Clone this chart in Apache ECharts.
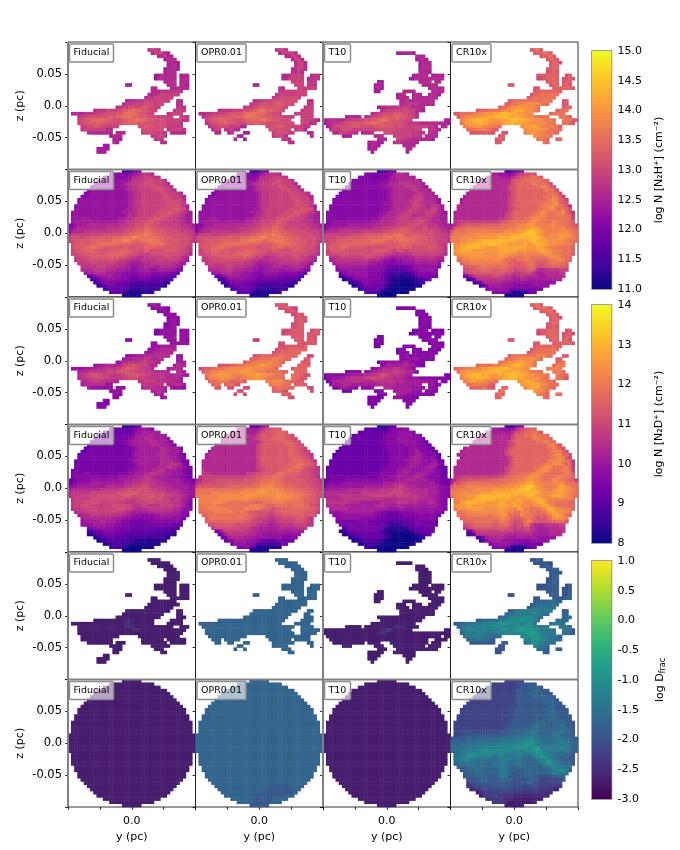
<!DOCTYPE html>
<html>
<head>
<meta charset="utf-8">
<style>html,body{margin:0;padding:0;background:#fff}#main{width:680px;height:850px}</style>
<script src="https://cdn.jsdelivr.net/npm/echarts@6/dist/echarts.min.js"></script>
</head>
<body>
<div id="main"></div>
<script>
// Each map is read off the picture, one string per row of 40 cells, one letter per cell:
// a = bottom of the colour bar, z = top of it, '.' = no data.
// Sphere rows are centred on the panel, filament rows start at the left edge.

const fidN2hSphere = ['cccfgh','iihhhghijklllk','iiiihhhhikkllmmmll','iiiiiiiiiijlllmmnnmmml','iiiiiiiiijkllmmmnnnmmmlk','hiiiiiiiiiijkllmmmmnnnmmlk','hiiiiiiiiiiijkllmmmmmnnnmmlk','hhiiiiiiiiiiiijkllmmmmmmnnmmmlk','hhiiiiiiiiiiiiijkllmmmmmmmnnmmmlk','hiiiiiiiiiiiiiiijkllmmmmmmmnnnmmmk','hiiiiiiiiiiiiiiijkllmmmmmmmmnnnmml','hiiiiiiiiiiiiiiiijkllmmmmmmmmnnnnmlj','iiiiiiiiiiiiiiiijjklmmmmmmmnnnnoonnk','iiiiiiiiiiiiiiiijjkklmmmmmmnnnoonnmlkj','iiiiiiiiiiiiiiiiijkklmmmmmnnoonnmmlkjj','iiijjjiiiiiiiiijjkklmmmmnnoonnmmmlkkjj','ijjjjjjjjjjjjjjkkllmmmnnoonnmmmmlllkjj','hhijjjkkkkkkkkkklllmmnnnooonnmmmmmmllkkj','hijkkkkkkkkklllllmmnnoooppoonnnnmmmmllkk','hjkkklllllllllmmmmnnooppqqpoooonnnnmmmml','kmmmmmmmmmnnnnnnnooppqqqrqqppoonnnnnnmml','mnnnnnnooooooopppqqqrrqqqqqqppooonnnnnml','mnnoooooppppppqqqrrqqppqqrqqqppoooonnnml','noooooppqqqqqqqppppooooppqqqqppooonnnm','noooppqqppoooooooonnoooppppoooooonnnml','mnoopppooonoooppppoonnnoonnnnoooonnmml','mmnnoooooooopppppoonnmmmmnnnnnnnnnmmlk','mmnnnoooooooopoonmmlkllmmmmmnnnmmlkk','lmmmnnnnnnnnnnmmllkkklllllmmmmmmllkj','lmmmmmmmmmmmlllkjjjjkkklllllllkkjj','lllllmmmllllkkjjiijjkkkjjkkkkkji','kkkkllllkkkjjjiihiijjjiijjjjjihh','ijjkkkkjjjiiihhhhiiiihhhhhhggf','ffhijjjjiiihhhgghhhhggggggfe','ddfhiiiiihhhgggggggfffffed','ddfhhhhgggffeeeeeeeeedcc','cdeggggfffddcdddddddcc','deefffeedcccccccdd','efffecbbbbbccc','bbbbbb'];
const t10N2hSphere = ['bbcefg','hhgggghhijkkkj','hhhhggggghjjkkkkkj','hhhhhhhhhhhijjkkkkkkkj','hhhhhhhhhhiijkkkllllkkkj','hhhhhhhhhhhhijjkkkklllkkji','ghhhhhhhhhhhhhijkkkkkkllkkkj','ghhhhhhhhhhhhhhijkkkkkkkllkkkj','gghhhhhhhhhhhhhhijkkkkkkllmlkkkj','ghhhhhhhhhhhhhhhhijkkkkkllmmlkkkji','ghhhhhhhhhhhhhhhiijkkkkklmmllkkkji','hhhhhhhhhhhhhhhhhiijkkkkllmmmlkkllkj','hhhhhhhhhhhhhhhhhiijkkkklmmmllllmmkj','hhhhhhhhhhhhhhhhhiijkkkllmmmlllmmmlkji','hhhhhhhhhhhhhhhhiijkkkllmmmkkllmmlkkjj','hhhhhhhhhhhhhhiiijkkkklmmmllmmmmlkkkjj','hhiiiiiiiiiiiijjjkkkkllmmmmmmnnmlkkkjj','ghhiiiiijjjjjjjkkkkllllmmmnnnnmmmlllkkjj','gijjjkkkkkkkkkkklllmmmnnooonnmmnnmmmlkkj','jkkkklllllllmmmmmmmnnoooppoonnnnnnnmmllk','lmmmmmmmmnnnnoooooopppqqqpoooooonnnmmmml','mmmmnnnooooooopppppqqqpqqqppppooonnmmmll','mmnnoooooppppppqqqqppoppqqqppoooonnnmmml','nnooppppppppppppoooooooppppoooooonnmml','nooopppooooonnnnnnnooooopoonnnnnoonnml','mnoooonnnnnnnnnoooonnmnnmmnnnnnnnnnmml','mmnnnnnnnnnnnnnnnnmmllkllllmmmmmmmmmlk','kllmmmmmmmmnnnmmlkkjjjjjjkkllllllkkk','jklllllllllllkkkjiihhiijjjjkkkkkkkjj','jkkkkkkkkkkjjjiihhhhhhiiiijjjjjjji','ijjjjjjjjjiiihhhggffffgghiiiiiiih','hiiiiiiiiihhhhggfeeeeefghhiiiiih','ghhiiiiiihhhggfedddccddfghhhhhh','ddghhiiiihhhhgfdcccbbccdfgggggg','bcdghhhhhhhhgfdcbbbbbbbcdefg','bcdfhhhhgggfdcbbaaaabbcd','bcefggggffecbaaaaaaabb','cdeffffecbaaaaaaab','deeedbaaaaaaab','aaaaaa'];
const crN2hSphere = ['ccdfgh','jjiiihijlmnnon','kkkkjjjjkmnoppqqpo','kkkkkkkkkknoopqqqqqqpp','kkkkkkkkkklnopqppqrqqqpn','kkkkkkkkkkkmnoppppppqrrqon','kkkkkkkkkkkkmnoppppppppqrqpn','jkkkkkkkkkkkklnopppppppppqqqpn','jkkkkkkkkkkkkkmnoppppppppqqqrrom','jkkkkkkkkkkkkkkmnopppppppppqrsrpom','jkkkkkkkkkkkkkkmnooppppppqqrrsspon','kkkkkkkkkkkkkkkkmnopppppppqrrssrqpol','kkkkkkkkkkkkkkkkmnoopppppqqrrssqqrpn','kkkkkkkkkkkkkkkklnoppppppqqssrqqrrspnl','kkkkkkkkkkkkkkkkmnopppppqrrssqqqrrrqpm','kkkkkkkkkkkkkkllmnopppqqrssrrqqqqqqqpn','klmmmmmmmmmmmmnoopqqqqqrssrrqqqrrqqqpo','jkmnooooooooppppqqqqrrssttsrrrrssrrqqpon','koppqqqqqqqqqqqqqqrrrssttuutsrrrrrrsqqqp','oqqqqrrrrrrrrrrrrssssttuvwvutsrrrrsssrqq','qqrrrrrssssssstttttuuuvwwwvutsrssstttsrq','rrrrsssssttttttuuuuvvvvuvvvvutssssttsrrq','rrrsstttuuvvvvvvvvvvuttuuvvuuutsttssrqqq','ssttuuvvvvvwwvvuutttttuttuvuutssssrrrq','stuvvvvvuuttttuuuuuuuuutttuutsrrrqqqqp','ttuuuuttttttttuuuuuutttssstuutsrrrqqqp','sttttttttsssstttttssrrsrrrrsttsrrqqqpo','rrsstttttssssttsrrqqqrrqqqqqrsssrqqp','qqrrssssssrsssrqqppqqrqqpppppqrrsrqp','pqqrrrrrrrrrrqqppooppqqpooopqqqqqp','oopppqqqqqqpqqpooooppqpnnoopppppo','nnoopppppoopppoomnnoppokkkllllmmm','lnnoooooooooonnmllmmnmkjjkkkkkll','ggjlmmmmmnnmmllkkkllkkkjjjkkkkkl','ddglllllllllkkkjjkkjjjjjjjjjkk','ddgjkkkkkjjjiiiiiiiiiiiiii','cfhjjjjiiiihhhhhhiiiii','giiiiiihhggggggggg','hhhhhgbbbbbfgg','bbbbbb'];

const fidN2dSphere = ['bbcdef','ggfffefghiiiih','ggggfffffgiijjjjjj','ggggggggggghjjjjkkjjjj','ggggggggggghijjjkkkjjjji','fgggggggggghijjjjjkkkjjjih','fggggggggggggijjjjjjkkkjjjih','ffggggggggggggghijjjjjjjkkjjjih','ffgggggggggggggghijjjjjjjkkkjjji','fggggggggggggggggijjjjjjjkkkjjjihg','fgggggggggggggggghijjjjjjjkkkjjihg','fgggggggggggggggggijjjjjjjjkkkkjihgg','gggggggggggggggggghijjjjjjjkkkllkjhg','gggggggggggggggggghiijjjjjkkkllkjjihg','gggggggggggggggggghiijjjjkkllkjjjiihgg','gggghhggggggggghhhiijjjkkllkkjjjiiihgg','ghhhhhhhhhhhhhhiiijjjkkllkkjjjjiiihhgg','ffghhhhiiiiiiiiijjjjkkkllllkkjjjjjjiihhg','fghiiiijjjjjjjjjjjkklllmmmllkkkjjjjjiihh','hiijjjjjjjjjkkkkkkllmmmnnmlllkkkkjjjjjii','jkkkkkkkkkllllllmmmnnnonnnmmlllkkkkjjjii','kllllllmmmmmmmmnnnnooonnnnnmmmmlllkkjjii','kllmmmmmmnnnnnnnnooonnnnnoonnnmmmlllkjii','lmmmmmnnnnnnnnnnnmmmmmnnnnnnnmmlllkjji','lmmmnnnnnmmmmmmmmlllmmmmnnmmmmmlllkjih','lmmnnnmmmlmmmnnnnmmlllmmllllmmmmllkjih','kllmmmmmmmmmmmnnnmmlkkkkllllllllkkjihh','kllmmmmmmmmmmmmlkkjjjjjkkkkkkkkjjihh','jkkklllllllllkkjjiiihhiiiijjjjjiihg','jkkkkkkkkkjjjiiihhhhhhhiiiiiiiihg','ijjjjjkkjjjiihhgggggghhhhhhhhhhg','iiiijjjjiiihhggggfffgggggggggfff','ghhiiiihhhggggffffffffffffeed','ddfgghhhhgggfffffffffeeeeedd','bbdffggggfffeeeeeeeeeedddddc','bbdfffffeeedddddddddddcb','bccdeeeeddddbbbbbbbbbb','bccdddcccbbbbbbbbb','cddddcaaaaaabb','aaaaaa'];
const oprN2dSphere = ['dddhij','kkjjjjjkmnnooo','kkkkkjjjkmnnoopppo','kkkkkkkkkkmnoooopppoon','kkkkkkkkkklmnoooppppoonn','kkkkkkkkkkkkmnoooooppponn','kkkkkkkkkkkkkmnoooooooppponn','jkkkkkkkkkkkkkmnooooooooppoonm','jkkkkkkkkkkkkkkmnooooooooppoonmm','jkkkkkkkkkkkkkkkmnooooooooppponnml','jkkkkkkkkkkkkkkkmnoooooooooppponnl','kkkkkkkkkkkkkkkkkmnoooooooooppppoonl','kkkkkkkkkkkkkkkkkmnnooooooopppqqppon','kkkkkkkkkkkkkkkkkmnnoooooopppqqponnml','lkkkkkkkkkkkkkkkklmnnooooppqqpponnmll','lllkkkkkkkkkkkmmmnnoooopqqppooonnnmll','lmmmmmmmmmmmmmmmnnoooppqqppoooonnnnmmk','kkmmmmnnnnnnnnnoooopppqqqqppooooooonnmml','kmnnnnnoooooooooooppqqqrrqqpppooooonnmml','noooooooooopppppppqqrrssrqqqppppoooonnmm','pqqqqqqqqqqqqqqrrrrsstssssrrqqqppppoonnm','qqqqqrrrrrrrrrssssstttsssssrrrrqqqppoonn','qrrrrrrsssssssssttsssrsssttsssrrrqqpoonn','rrrrrrssssssssssrrrrrrrrssssrrqqqpponn','rrrrsssrrqqqqqqqqqppqqqrrrrqqqqqqppoon','qrrrrrqqqqqqqqqqrrrqqpppqqqqpqqqqppnnm','qqqrrrrrrqqqqqrrrrrqpponoooppppppppoon','qqqqqrrrrrrqqrqpoonnnnnnoopppppppooonm','ppqqqqqqqqqqqqppoonnnmmnnoooooopooon','pqqqqqqqqqqqpponnmmmllmmnnnnnoonml','ppppppppppppoonnmmllkklmmmmmnnnnml','nnoooooonnnnnmmlkkkjjkkllllmmmmll','lnnnnnnnnmmmlkkjjjjjjkkkkkklll','ghkmmmmmmlllkkjjjjjjjjjjjjjj','fhjllllllkkkjjiiiiiiiiiiii','ggjkkkkjjjjiiiiiiiihhhhh','gghjjjjiiihhffffggfgfg','giiiihhhfdddddddgg','hhhhgfbbbbbbcc','bbbbbb'];
const t10N2dSphere = ['bbbdef','ffeeeeefghhhii','fffffeeeeghhhiiiih','ffffffffffghhhhiiiihhh','fffffffffffghhhiiiiihhhg','ffffffffffffghhhhiiiiihhgf','fffffffffffffghhhhhhiiihhhgf','ffffffffffffffghhhhhhhiiihhhgf','efffffffffffffffghhhhhhiijihhhgf','effffffffffffffffghhhhhhiijjihhhgf','effffffffffffffffghhhhhhijjjihhhgf','ffffffffffffffffffghhhhiijjjjiihiigf','fffffffffffffffffgghhhhhijjjiiiijjhg','fffffffffffffffffgghhhhiijjjiiijjjigff','fffffffffffffffffghhhhiijjjiiijjjihhgf','ffffffffffffffggghhhhhijjjiijjjjihhhgf','fggggggggggggggghhhhiijjjjjjkkjihhhhgf','efggggghhhhhhhhhhhhiiiijjjkkkjjjjiihhggf','fghhhhiiiiiiiiiiiiijjjkkkkkjjjjjjjjihggf','hiiiiiiiiiiiijjjjjjkkkllmlkkkjjjjjjjiihh','jjjjjjjjkkkkkkkkkkllllmmmllkkkkkkjjjihhg','kkkkkkkkkkkkllllllllmmmmmlllkkkkkjjjihhg','jkkkkllllllllllmmmmmmmlmmmmlllkkkjjiihhg','kkkkkllllllllllllkkkkkkllllllkkkkjjiig','lllllllkkkkjjjjjjkkkkkllllkkkjjjkkjihh','kkkkkkjjjjjjjjjkkkkjjjkkjjjjjjjjjjjihh','jkkkkkjjjjjjjjjjjjjiiijjiiiiiiiiiiihg','iiiijjjjjjjjjjiihggggghhhhhiiiiiihhg','hhiiiiiiiiiiihhggffffghhhhhhhhhhgf','hiiiiiiihhhhhgggfffffggggghhhhhg','ggggggghhhgggfffeeeddfffgggggggf','ggggggggggggfffecccdeeffgggggff','eeggggggggggfecbbbbcdefffffff','ccegggggggggfdcbbbbbbbcdffffff','bcdeffffffffedcbaaaaaabcdeef','bbddffffffedcbaaaaaaaabc','bccdeeeedcbaaaaaaaaabb','bbcdddcbaaaaaaaaab','cccbaaaaaaaaab','aaaaaa'];
const crN2dSphere = ['cccfgh','jjiiihijlnoppp','kkjjjjjjknnoppqqpo','kkkkkkkkkkmoopqqqrqqqp','kkkkkkkkkkknoppppqrrqqqp','kkkkkkkkkkkmnpppppppqqrrpp','kkkkkkkkkkkkmnopppppppppqsrpo','jkkkkkkkkkkkklnoppppppppppqqrqpn','jkkkkkkkkkkkkkmoppppppppppppqrrrpn','jkkkkkkkkkkkkkkmnppppppppppppqrssppn','jkkkkkkkkkkkkkkmnpppppppppppqqrsrom','kkkkkkkkkkkkkkkkmoppppppppppqrrssrqpl','kkkkkkkkkkkkkkkkmoppppppppqqrrsssqpql','kkkkkkkkkkkkkkkkmnoppppppqqrsssqqqrrpm','kkkkkkkkkkkkkkkkmnpppppppqrsssqqqqrrqm','kkkkkkkkkkkkkkllmopppqqqrsssrqqpqqqrqo','llmmmmmmmmmmmmnnppqqqqrstssrqqqqrrrqqp','jkmnnnooooooopppqqqqqrrsttssrqqqssrqqpom','konppqqqqqqqqqqqqqrrrsstuutssrrrssssqqqp','oqqqqrrrrrrrrrrrssssttuvwwutsrrrrsutsrqq','qqrrrrrssssssttttttuuvvwwvutssrrstuutsrq','rrrrsssssttttuuuuuuuvvvuvvvutsssstutsrrq','qrssstttuuvvvvvvvvvuuttuvvutssstuuutsrqq','rrssttuvvvvvvuuuuuttuttttuvutsrrrsrrrq','rrtuvvvuuuttttuuttuuttssstuvusrrqqqqpp','stttuuttttttttuuuttutsssrsstuusrqqqqpp','rssstttttssssttttssrutrrqqqrsuvtssrrqp','qqrrsssssssrsttsrrqqsrrqqpqqstutssrr','qqqrrrrrrrqrsstsqqppsrqqppppqrtutrqp','ppqqqqqqqqqqrsrqpoopqrqpnoopqstssr','pppqqqqqqqpqrqponnoqrqoooooppqqqo','nnoppppppooppqpnmnnqpmkkkkllllmm','lmnooooooooooonmlmmnnlkjjkkkkkll','ggkmmmmmmmmnmmmlllmmlkjjjjkkkkl','ddglllllllllkkkjkkkkkjjjjjkkkk','ddgjkkkkkjjjjjjjjjjiiiiii','cfhjjjjiiiihhhhhiiiiii','giiiiiihhgggggggg','hhhhhgbbbbbfgg','bbbbbb'];

const fidDfracSphere = ['cccccc','cccccccccccccc','cccccccccccccccccc','cccccccccccccccccccccc','cccccccccccccccccccccccc','cccccccccccccccccccccccccc','cccccccccccccccccccccccccccc','cccccccccccccccccccccccccccccc','cccccccccccccccccccccccccccccccc','cccccccccccccccccccccccccccccccccc','cccccccccccccccccccccccccccccccccc','cccccccccccccccccccccccccccccccccccc','cccccccccccccccccccccccccccccccccccc','cccccccccccccccccccccccccccccccccccccc','cccccccccccccccccccccccccccccccccccccc','cccccccccccccccccccccccccccccccccccccc','cccccccccccccccccccccccccccccccccccccc','cccccccccccccccccccccccccccccccccccccccc','cccccccccccccccccccccccccccccccccccccccc','cccccccccccccccccccccccccccccccccccccccc','cccccccccccccccccccccccccccccccccccccccc','cccccccccccccccccccccccccccccccccccccccc','cccccccccccccccccccccccccccccccccccccccc','cccccccccccccccccccccccccccccccccccccc','cccccccccccccccccccccccccccccccccccccc','cccccccccccccccccccccccccccccccccccccc','cccccccccccccccccccccccccccccccccccccc','cccccccccccccccccccccccccccccccccccc','cccccccccccccccccccccccccccccccccccc','cccccccccccccccccccccccccccccccccc','cccccccccccccccccccccccccccccccccc','cccccccccccccccccccccccccccccccc','cccccccccccccccccccccccccccccc','cccccccccccccccccccccccccccc','cccccccccccccccccccccccccc','cccccccccccccccccccccccc','cccccccccccccccccccccc','cccccccccccccccccc','cccccccccccccc','cccccc'];
const oprDfracSphere = ['iiiiii','iiiiiiiiiiiiii','iiiiiiiiiiiiiiiiii','iiiiiiiiiiiiiiiiiiiiii','iiiiiiiiiiiiiiiiiiiiiiii','iiiiiiiiiiiiiiiiiiiiiiiiii','iiiiiiiiiiiiiiiiiiiiiiiiiiii','iiiiiiiiiiiiiiiiiiiiiiiiiiiiii','iiiiiiiiiiiiiiiiiiiiiiiiiiiiiiii','iiiiiiiiiiiiiiiiiiiiiiiiiiiiiiiiii','iiiiiiiiiiiiiiiiiiiiiiiiiiiiiiiiii','iiiiiiiiiiiiiiiiiiiiiiiiiiiiiiiiiiii','iiiiiiiiiiiiiiiiiiiiiiiiiiiiiiiiiiii','iiiiiiiiiiiiiiiiiiiiiiiiiiiiiiiiiiiiii','iiiiiiiiiiiiiiiiiiiiiiiiiiiiiiiiiiiiii','iiiiiiiiiiiiiiiiiiiiiiiiiiiiiiiiiiiiii','iiiiiiiiiiiiiiiiiiiiiiiiiiiiiiiiiiiiii','iiiiiiiiiiiiiiiiiiiiiiiiiiiiiiiiiiiiiiii','iiiiiiiiiiiiiiiiiiiiiiiiiiiiiiiiiiiiiiii','iiiiiiiiiiiiiiiiiiiiiiiiiiiiiiiiiiiiiiii','iiiiiiiiiiiiiiiiiiiiiiiiiiiiiiiiiiiiiiii','iiiiiiiiiiiiiiiiiiiiiiiiiiiiiiiiiiiiiiii','iiiiiiiiiiiiiiiiiiiiiiiiiiiiiiiiiiiiiiii','iiiiiiiiiiiiiiiiiiiiiiiiiiiiiiiiiiiiii','iiiiiiiiiiiiiiiiiiiiiiiiiiiiiiiiiiiiii','iiiiiiiiiiiiiiiiiiiiiiiiiiiiiiiiiiiiii','iiiiiiiiiiiiiiiiiiiiiiiiiiiiiiiiiiiiii','iiiiiiiiiiiiiiiiiiiiiiiiiiiiiiiiiiii','iiiiiiiiiiiiiiiiiiiiiiiiiiiiiiiiiiii','iiiiiiiiiiiiiiiiiiiiiiiiiiiiiiiiii','iiiiiiiiiiiiiiiiiiiiiiiiiiiiiiiiii','iiiiiiiiiiiiiiiiiiiiiiiiiiiiiiii','iiiiiiiiiiiiiiiiiiiiiiiiiiiiii','iiiiiiiiiiiiiiiiihhhhhhiiiii','iiiiiiiiiiiiiiiihhhhhhhhii','iiiiiiiiiiiiihhhhhhhhhii','iiiiiiiiihhhhhhhhhhiii','iiiiiiihhhhhhiiiii','iiiiihhhhhhiii','hhhhhh'];
const t10DfracSphere = fidDfracSphere;
const crDfracSphere = ['ffffff','ffffffffghhhhh','ffffffffffghhhiiih','fffffffffffghhhhiiihhh','ffffffffffffghhhiiiiihhh','fffffffffffffghhhhhiiiiihh','ffffffffffffffghhhhhhhiiiihh','fffffffffffffffghhhhhhhhiiiihh','fffffffffffffffgghhhhhhhhhiiihhh','fffffffffffffffgghhhhhhhhhiiiihhhh','fffffffffffffffgghhhhhhhhhhiiiihhh','fffffffffffffffggghhhhhhhhhiiiiihhhh','ffffffffffffffffgghhhhhhhhhiijjiihhh','ffffffffffffffffgghhhhhhhiijjiihiijhhh','ffffffffffffffffgghhhhhhijjjiihiijjhhh','ffffffffffffffffghhhhiiijjjiiihhiijjhh','ggggggggggggggghhhiiiijjkkjiiiiijkjiih','ffggghhhhhhhhhhhiiijjjkkkkjjiiikkjiiih','ghhhhiiiiiiiiijjjjjkkkkllmkkjjjjjkkjjiih','hiiiiiiijjjjjjjjkkkkkllmmnlkkjjjjkllkjii','iiijjjjjkkkkkkklllllmmmnnmmkkjjjkllkkjii','ijjjjkkkkkkllllllllmmmnnmmnnlllkkkllkjii','jjjkkklllmmmmmmmmmmmllkmmmnnmllkkkkkkjii','jjkklmmmmmmmllllkkkkllkkkmnnmlkjjjjiih','jkllmmllkkkkjjkkkkkkkkjjjklnnmkjjiiihh','jkkllkkjjjjjjjkkkkjjkjiiiijllnmkjjiihh','iijjjjjjjiiijjjkkjjjkjiiiiiklmmkkjjiih','iiijjjjjjiijjkkjiiiijjiiiiijjklllkjj','hhiijjjiiiiijkkjihhhjjiiiiiijklmmlh','hhiiiiiiiiijkkjhhhhijiiiiiijkkkkk','hhhiiiiihhijkkhhhghjiihggggghhii','gghhiiihhhhiijhgggghiihfffffggh','fgghhhhhhhhhhhggghhiigfffffffg','eefggggghhhhhhggggfgggffffeeee','deefggggggggggffffffffeeeedd','cdefffffffffeeeeeeeeeddd','cdefffeeeeeddddddddddd','deeeeedddccccccccc','eeeedccccccccd','cccccc'];

const fidN2hFil = ['','','.........................lmml','..........................kmmmkj','............................kkmkk','..............................jkkk','...............................kkkj','...............................jkkj','..............................jkkkj','..............................jkkk','...........................jjkkkkk.jkk','...........................ikkkkkk.kkk','..............................kkkl.kkk','..................jj...........kkk.kkj','..........................kk....kkkkkk','..........................kkklllllll','.........................kkllmmmmmm','........................kllmmmmmm','..................jkklllmmmmmmmm..kk','.................kllmmmmnnnmmm....kl','...............klmmnnnnoonnmm.....lll','........klllmmmmnoopqppoonmm.....lmmm','.kkkkllllmmnnnnoopqqqpoonnm....lmmmm','...lmmnnnnnnoooppqqqppooonnnmmmmm..mml','...mnoopppppoonnnooppqqppoonnnnmmmmmll','...mnnoooppoonnnnoopppoonnnnnnnmmmml','....mmnnoonnmmmm......nnooonnnnmmmll','....lmmmmmmmkk.........nnnnnnn.lmmmml','......lkkkkkkk.kkk.....mmnnmmml.lkkkk','.............jkkk.........lmmml','..............jkj..........lml','..............kj.............kl','...........jj','.........jjjj','.........jjj'];
const oprN2hFil = ['','','.........................lmml','..........................kmmmmk','............................kkmmk','..............................kmmk','...............................kmmk','...............................kmmk','..............................kkmmk','..............................kkmk','...........................kkkmmmm..kll','...........................kkmmmmm.klll','..............................mmmm.lll','..................kk...........mmm.llk','..........................lk....mmmmmm','..........................llmmmmmmm','.........................lmmmmmmmmm','........................lmmnnnnnm','..................kllmmmnnnnnnnn...lk','.................lmmnnnnnooonnn....ll','...............lmmnnooooooonn.....lmm','.......kllllmmmnnoopqqppoonn.....lmmm','.kklllmmmnnoooopqqqqppoonnm....lmmmmm','..lmmnnooooopppqqqqppooonnnmmmm..mmmm','...mnoopppoonnnoopppqqppoonnnn...nmmmkk','...lmnnoopoonnnnooppoonnnnnnnnn..nmmkl','....lmmnnnmlmmkk......nnnooonnmmmmll','.....kmm.llmkk.........nnnnnnn.lmmk','......kk..kl...jj.......mnnnnmm....kk','.............kj.........lmmmk.......k','............k..j...........lmk','.............................lk'];
const t10N2hFil = ['','','','.......................jjkkkj','.............................kkk','.............................jkkj','..............................jkkk','..............................jkkk','..............................jkkk','..............................kkkj','............................jjkkk.jjkj','...........................jjkkkkkkkkk','.................jj...........kkkk.kk','................jkj............kkkkk','................jkj..............kkkkk','................jj.......kkkk.....kkkk','.......................jkk..kkk..kkkj','.......................jkkk.kkkkkkkk','........................kklkkkkkkkk','........................kkllllkkkkk','.................jkklllllmmlkkkk','..................klmmmmmnnmmkkj','...............klmmnnnooonnmmk','.......jkkkk.klmmnnoooppoonnmk..........jk','jkkkkkkllmmmmnnoopqqpooonnmm..........kjj','jkkllmmnnooooppqqppooonnnmmlllkkkkkkkkkj','.jkmnnnnnooonnnnoooooonnnnmmmmmmmllk.kk','..kmmmnnnmmmmmmmmnnnnnnmmmmmmmm..llkk','...kkmmmllk.kkkl...nnnmmmmmmllll.lkk','......jjj.......kkk...mmmmmmlll.kkkk','.................kkk...mmmllkkkkkkj','..............jkkjj...lllkkkkj','..............jkkj.......kkkk','..............jkj.........kk','...............j..........j'];
const crN2hFil = ['','','.........................opqo','..........................oppqpo','............................oppqo','..............................oppo','...............................oppn','...............................opp','..............................oopp','..............................nopo','...........................noopppp..no','...........................mnopppp.oopn','..............................oppp.opo','..................oo...........opp.opn','..........................oo....opppppo','..........................opppppppp','.........................oppqqqqqq','........................opqqqqqqq','..................opqqqqqqqqqrqq...oo','.................opqqrrsstssrqq....oo','...............pqqrsstttssrq.......opp','........opppqqqqrsstuuvttsrq.....oqqq','.opqqqqrrsstttuuvvvuuttsss.....pqqqq','..oqrrssttttuuvvvvuuuuttssrqqqq...qqqo','...rstuvvvuuttttuuvvwvvuutsssrrrq..rqqoo','...qsttuuvuutssstuuvuuuttsssssrrq..qqpo','....rsstttssrrrq......sttuutsrrrrqo','.....pqqrrrqqpo........stttttssqqqq','......ooooopoo..oo.....rsttssrqqqp','...............op.........ssrrrq','..............opo..........qrqp..pq','..............oo.............qp'];

const fidN2dFil = ['','','.........................ijji','..........................hiiihh','............................hhih','..............................hiii','...............................hiih','...............................hiih','..............................hhiih','..............................hhii','...........................hhiiiii.hii','...........................ghiiiii.iii','..............................iiij.iii','..................hh...........iii.iih','..........................ii....iiiiii','..........................iiijjjjj','.........................iijjkkkkk','........................ijjkkkkkk','..................hiijjjkkkkkkkk..ii','.................ijjkkkkllkkkk....ij','...............ijkkllllmmllkk.....jjj','........ijjjkkkkkmmnonnmmlkk.....jkkk','.iiiijjjjkkllllmmnooonmmllk....jkkkk','...jkkllllllmmmnooonnmmmlllkkkkk..kkj','...klmmnnnnmmlllmmnnoonnmmllllkkkkkkjj','...kllmmmnnmmllllmmnnnmmlllllllkkkkj','....kkllmmllkkkk......llmmmllllkkkjj','....jkkkkkkkii.........lllllll.jkkkkj','......jiiiiiii.iii.....kkllkkkj.jiiii','.............hiii.........jkkkj','..............hih..........jkj','..............ih.............ij','...........hh','.........hhhh','.........hhh'];
const oprN2dFil = ['','','.........................nooo','..........................nooonm','............................nnon','..............................nnoo','...............................nooo','...............................noon','..............................nnoo','..............................nnoo','...........................nnnoooo..noo','...........................mnooooo.oooo','..............................oooo.oon','..................mm...........ooo.oon','..........................nn....oooooo','..........................nnoooooop','.........................nooopppppp','........................noopppppp','..................noopppppqqpppp...nn','.................oppqqqqrrqqpp....oo','...............opqqrrrrsrrqp.....ooo','.......noooppqqqrrssttssrrq.....oppp','.nopppqqqrrsssssttsssrrrqp....opppp','..oqqrrssssssstttssrrrqqqqqpp..pppp','...qrsstttssrrrssttuttssrqqq..qpppnn','...prrsstssrrqrrssttssrqqqqq..qppno','....pqqrrrqopqqo......rrsssrqqppoo','.....oqq.ppqon.........rrrrqqq.oppo','......oo..on...nn.......pqqqqpp....nn','.............on.........oppon.......n','............n..n...........opo','.............................on'];
const t10N2dFil = ['','','','.......................ggghhg','.............................hhh','.............................ghhg','..............................ghhh','..............................ghhh','..............................ghhh','..............................hhhg','............................gghhh.gghg','...........................gghhhhhhhhh','.................gg...........hhhh.hh','................ghg............hhhhh','................ghg..............hhhhh','................gg.......hhhh.....hhhh','.......................ghh..hhh..hhhg','.......................ghhh.hhhhhhhh','........................hhihhhhhhhh','........................hhiiiihhhhh','.................ghhiiiiijjihhhh','..................hijjjjjkkjjhhg','...............hijjkkkllkkjjh','.......ghhhh.hijjkklllmmllkkjh..........gh','ghhhhhhiijjjjkkllmnnmlllkkjj..........hgg','ghhiijjkkllllmmnnmmlllkkkjjiiihhhhhhhhhg','.ghjkkkkklllkkkklllllllkkkjjjjjjjiih.hh','..hjjjkkkjjjjjjjjkkkkkkjjjjjjjj..iihh','...hhjjjiih.hhhi...kkkjjjjjjiiii.ihh','......ggg.......hhh...jjjjjjiii.hhhh','.................hhh...jjjiihhhhhhg','..............ghhgg...iiihhhhg','..............ghhg.......hhhh','..............ghg.........hh','...............g..........g'];
const crN2dFil = ['','','.........................opqo','..........................oppqpo','............................oppqo','..............................oppo','...............................oppn','...............................opp','..............................oopp','..............................nopo','...........................noopppp..no','...........................mnopppp.oopn','..............................oppp.opo','..................oo...........opp.opn','..........................oo....opppppo','..........................opppppppp','.........................oppqqqqqq','........................opqqqqqqq','..................oqqqqqqqqrrsqq...oo','.................pqqrsssstsrq....oo','...............qqrssttutssq......pqq','........pqqqqrrrsttuvvuttsq.....prrr','.pqqrrrsssttuuvvvvvuuttst.....qrrrr','..qsstttttuuvvvvuuuuuuttsrqqq...rrrp','...stuvvvvuutttuuvvwvvuuttsrrrq..rqqp','...rttuuvvuutsstuuvvvuuttsssrqq..qqpo','....rstuttsrrrq......ttuuutsrrqqp','.....qqrrrqqpo........tuuuuutsrqqq','......ppppqpoo..pp.....rtuuusrqqp','...............pq.........tssrq','..............pqp..........rrqp..qq','..............pp.............qp'];

const fidDfracFil = ['','','.........................cccc','..........................cccccc','............................ccccc','..............................cccc','...............................cccc','...............................cccc','..............................ccccc','..............................cccc','...........................ccccccc.ccc','...........................ccccccc.ccc','..............................cccc.ccc','..................cc...........ccc.ccc','..........................cc....cccccc','..........................cccccccc','.........................cccccccccc','........................ccccccccc','..................cccccccccccccc..cc','.................ccccccccccccc....cc','...............cccccccccccccc.....ccc','........ccccccccccdddcccccc.....cccc','.ccccccccccccccccdddccccccc....ccccc','...cccccccccccccccdddcccccccccccc..ccc','...cccccccccccccccccdddcccccccccccccc','...ccccccccccccccccccccccccccccccccc','....cccccccccccc......ccccccccccccc','....cccccccccc.........ccccccc.cccccc','......cccccccc.ccc.....cccccccc.ccccc','.............cccc.........cccccc','..............ccc..........ccc','..............cc.............cc','...........cc','.........cccc','.........ccc'];
const oprDfracFil = ['','','.........................iiii','..........................iiiiii','............................iiiii','..............................iiii','...............................iiii','...............................iiii','..............................iiiii','..............................iiii','...........................iiiiiii..iii','...........................iiiiiii.iiii','..............................iiii.iii','..................ii...........iii.iii','..........................ii....iiiiii','..........................iiiiiiiii','.........................iiiiiiiiii','........................iiiiiiiii','..................iiiiiiiiiiiiii...ii','.................iiiiiiiiiiiii....ii','...............iiiiiiiiiiiiii.....iii','.......iiiiiiiiiiiiiiiiiiiii.....iiii','.iiiiiiiiiiiiiiiiiiiiiiiiii....iiiii','..iiiiiiiiiiiiiiiiiiiiiiiiiiiii..iiii','...iiiiiiiiiiiiiiiiiiiiiiiiiii...iiiiii','...iiiiiiiiiiiiiiiiiiiiiiiiiiii..iiiii','....iiiiiiiiiiii......iiiiiiiiiiiiii','.....iii.iiiii.........iiiiiii.iiiii','......ii..ii...ii.......iiiiiii....ii','.............ii.........iiiii.......i','............i..i...........iii','.............................ii'];
const t10DfracFil = ['','','','.......................ccccc','.............................ccc','.............................cccc','..............................cccc','..............................cccc','..............................cccc','..............................cccc','............................ccccc.cccc','...........................ccccccccccc','.................cc...........cccc.cc','................ccc............ccccc','................ccc..............ccccc','................cc.......cccc.....cccc','.......................ccc..ccc..cccc','.......................cccc.cccccccc','........................ccccccccccc','........................ccccccccccc','.................ccccccccccccccc','..................ccccccccccccc','...............ccccccccccdccc','.......ccccc.cccccccccdeddcccc..........cc','cccccccccccccccccccdfdcccccc..........ccc','cccccccccccccccccddecccccccccccccccccccc','.cccccccccccccccccccccccccccccccccccc.cc','..ccccccccccccccccccccccccccccccc..cccc','...cccccccccc.cccc...cccccccccccc.ccc','......ccc.......ccc...cccccccccc.cccc','.................ccc...ccccccccccccc','..............ccccc...ccccccc','..............cccc.......cccc','..............ccc.........cc','...............c..........c'];
const crDfracFil = ['','','.........................ggjh','..........................ghhhhg','............................hhih','..............................hhii','...............................hhhh','...............................ghi','..............................gghi','..............................ghih','...........................ggghhhi..gh','...........................gghhhhi.ggh','..............................hhhi.hhh','..................gg...........hhh.ggh','..........................hh....hhhhii','..........................hhiiijjji','.........................hiijjjjjj','........................hijjkkkjj','..................hijjkkkkkkkkkk...hh','.................ijjkkkkkllkkjj....ii','...............ijjklllmmmmlkj......ijj','........hiiijjjkkllmmmnnmmlj.....ijjj','.hiiijjkkkllllmmnnnmmlklmmj....jkkkj','..ijkkkkkllllmmmmlllmmmnnmkkkkk...kkki','...jkllmlllkkkllmmllmnonnnmlkkkkj..kjjh','...ijkkkllkkkkkllmmmllmnoonmlkkkk..jjih','....jkkllkkjjjjj......lmnonnmlkkjjh','.....hjjjkjjih.........llmnnmlkjjjj','......hhhhhhhh..ii.....jkmnmlkjjj','...............gh.........lkjji','..............ghg..........jjih..ii','..............gg.............ih'];

const scenarios = ['Fiducial', 'OPR0.01', 'T10', 'CR10x'];
const panelMaps = [
  [fidN2hFil, oprN2hFil, t10N2hFil, crN2hFil],
  [fidN2hSphere, fidN2hSphere, t10N2hSphere, crN2hSphere],
  [fidN2dFil, oprN2dFil, t10N2dFil, crN2dFil],
  [fidN2dSphere, oprN2dSphere, t10N2dSphere, crN2dSphere],
  [fidDfracFil, oprDfracFil, t10DfracFil, crDfracFil],
  [fidDfracSphere, oprDfracSphere, t10DfracSphere, crDfracSphere]
];
const rowRange = [[11, 15], [11, 15], [8, 14], [8, 14], [-3, 1], [-3, 1]];
const cbScales = [[11, 15, 0.5], [8, 14, 1], [-3, 1, 0.5]];
const cbNames = ['log N [N₂H⁺] (cm⁻²)', 'log N [N₂D⁺] (cm⁻²)', 'log D{s|frac}'];
const plasma = ['#0d0887','#41049d','#6a00a8','#8f0da4','#b12a90','#cc4778','#e16462','#f2844b','#fca636','#fcce25','#f0f921'];
const viridis = ['#440154','#482878','#3e4989','#31688e','#26828e','#1f9e89','#35b779','#6ece58','#b5de2b','#fde725'];
const levels = 'abcdefghijklmnopqrstuvwxyz';

const panelX = 68, panelY = 42, panelSize = 127.5;
const font = 'DejaVu Sans';
const cells = [];
for (let i = 0; i < 40; i++) cells.push(i);

function decode(rows, min, max, centred) {
  let out = [];
  rows.forEach((row, y) => {
    let start = centred ? 20 - Math.floor(row.length / 2) : 0;
    for (let i = 0; i < row.length; i++) {
      let k = levels.indexOf(row[i]);
      if (k >= 0) out.push([start + i, y, min + k / 25 * (max - min)]);
    }
  });
  return out;
}

function tickText(v) {
  if (v === 0) return '0.0';
  if (Math.abs(Math.abs(v) - 0.05) < 1e-6) return v.toFixed(2);
  return '';
}

let grid = [], xAxis = [], yAxis = [], series = [], title = [];
let seriesOf = [[], [], []];
panelMaps.forEach((line, r) => {
  line.forEach((rows, c) => {
    let g = grid.length;
    grid.push({ left: panelX + c * panelSize, top: panelY + r * panelSize, width: panelSize, height: panelSize, show: true, borderColor: '#000', borderWidth: 0.8, backgroundColor: '#fff' });
    xAxis.push({ type: 'category', gridIndex: g, data: cells, show: false });
    yAxis.push({ type: 'category', gridIndex: g, data: cells, show: false, inverse: true });
    xAxis.push({
      type: 'value', gridIndex: g, min: -0.1, max: 0.1, interval: 0.05, show: r === 5, position: 'bottom',
      splitLine: { show: false }, axisLine: { show: false }, axisTick: { length: 3, lineStyle: { color: '#000', width: 0.8 } },
      axisLabel: { formatter: v => (v === 0 ? '0.0' : ''), fontSize: 11, color: '#000', margin: 9, fontFamily: font },
      name: 'y (pc)', nameLocation: 'middle', nameGap: 25, nameTextStyle: { fontSize: 11, color: '#000', fontFamily: font }
    });
    yAxis.push({
      type: 'value', gridIndex: g, min: -0.1, max: 0.1, interval: 0.05, position: 'left',
      splitLine: { show: false }, axisLine: { show: false }, axisTick: { length: 3, lineStyle: { color: '#000', width: 0.8 } },
      axisLabel: { show: c === 0, formatter: tickText, fontSize: 11.5, color: '#000', margin: 6, fontFamily: font },
      name: c === 0 ? 'z (pc)' : '', nameLocation: 'middle', nameGap: 42, nameTextStyle: { fontSize: 11, color: '#000', fontFamily: font }
    });
    seriesOf[Math.floor(r / 2)].push(series.length);
    series.push({
      type: 'heatmap', xAxisIndex: g * 2, yAxisIndex: g * 2, data: decode(rows, rowRange[r][0], rowRange[r][1], r % 2 === 1),
      progressive: 0, silent: true, itemStyle: { borderWidth: 0 }
    });
    title.push({
      text: scenarios[c], left: panelX + c * panelSize + 1.5, top: panelY + r * panelSize + 2, backgroundColor: 'rgba(255,255,255,0.6)',
      borderColor: '#8c8c8c', borderWidth: 1.5, borderRadius: 1, padding: [4, 4, 4, 4],
      textStyle: { fontSize: 9.5, fontWeight: 'normal', color: '#000', fontFamily: font }
    });
  });
});

// colour bars: the bar fills a hidden 0-1 axis, the ticks sit on a second axis
const cbTop = [51, 305, 561];
const cbColors = [plasma, plasma, viridis];
cbScales.forEach(([min, max, step], i) => {
  let g = grid.length;
  let stops = cbColors[i].map((color, k, a) => ({ offset: k / (a.length - 1), color }));
  grid.push({ left: 592, top: cbTop[i], width: 19.5, height: 238, show: true, borderColor: '#808080', borderWidth: 1.5 });
  xAxis.push({ type: 'category', gridIndex: g, data: [0], show: false });
  yAxis.push({ type: 'value', gridIndex: g, min: 0, max: 1, show: false });
  series.push({
    type: 'bar', xAxisIndex: xAxis.length - 1, yAxisIndex: yAxis.length - 1, data: [1], barWidth: '100%', silent: true,
    itemStyle: { color: new echarts.graphic.LinearGradient(0, 1, 0, 0, stops) }
  });
  yAxis.push({
    type: 'value', gridIndex: g, min, max, interval: step, position: 'right',
    splitLine: { show: false }, axisLine: { show: false }, axisTick: { length: 3.5, lineStyle: { color: '#808080', width: 1 } },
    axisLabel: { formatter: v => (step < 1 ? v.toFixed(1) : v), fontSize: 11, color: '#000', margin: 6, fontFamily: font },
    name: cbNames[i], nameLocation: 'middle', nameGap: 42, nameRotate: 90,
    nameTextStyle: { fontSize: 11, color: '#000', fontFamily: font, rich: { s: { fontSize: 8, verticalAlign: 'bottom', padding: [5, 0, 0, 0], fontFamily: font } } }
  });
});

// thick grey spines
const greyV = [68, 323], greyH = [169.5, 424.5, 679.5];
let graphic = [];
greyV.forEach(x => graphic.push({ type: 'line', z: 50, shape: { x1: x, y1: 42, x2: x, y2: 807 }, style: { stroke: '#808080', lineWidth: 2 } }));
greyH.forEach(y => graphic.push({ type: 'line', z: 50, shape: { x1: 68, y1: y, x2: 578, y2: y }, style: { stroke: '#808080', lineWidth: 2 } }));

let myChart = echarts.init(document.getElementById('main'), null, { renderer: 'canvas' });
myChart.setOption({
  animation: false, backgroundColor: '#fff', title, grid, xAxis, yAxis, series, graphic,
  visualMap: [
    { show: false, type: 'continuous', min: 11, max: 15, seriesIndex: seriesOf[0], inRange: { color: plasma } },
    { show: false, type: 'continuous', min: 8, max: 14, seriesIndex: seriesOf[1], inRange: { color: plasma } },
    { show: false, type: 'continuous', min: -3, max: 1, seriesIndex: seriesOf[2], inRange: { color: viridis } }
  ]
});
</script>
</body>
</html>
